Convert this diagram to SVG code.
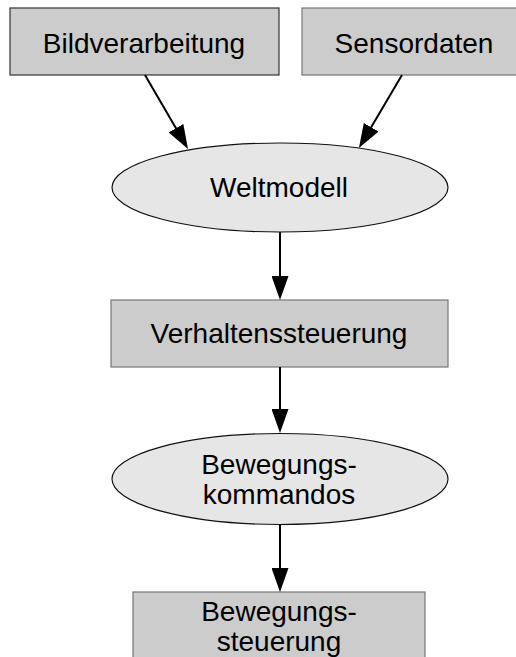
<svg xmlns="http://www.w3.org/2000/svg" width="516" height="657" viewBox="0 0 516 657">
  <style>
    .box { fill: #cccccc; stroke: #777777; stroke-width: 1.2; }
    .box.dark { stroke: #333333; }
    .oval { fill: #e6e6e6; stroke: #111111; stroke-width: 1.2; }
    .label { font-family: "Liberation Sans", Arial, sans-serif; font-size: 28px; fill: #000000; text-anchor: middle; }
    .edge { stroke: #000000; stroke-width: 2; fill: none; marker-end: url(#arrow); }
  </style>
  <defs>
    <marker id="arrow" markerUnits="userSpaceOnUse" markerWidth="24" markerHeight="17" refX="18" refY="8.5" orient="auto">
      <path d="M0,0 L24,8.5 L0,17 z" fill="#000000"/>
    </marker>
  </defs>
  <rect width="516" height="657" fill="#ffffff"/>

  <g id="bildverarbeitung">
    <rect class="box dark" x="10" y="8" width="269" height="67"/>
    <text class="label" x="144" y="53">Bildverarbeitung</text>
  </g>

  <g id="sensordaten">
    <rect class="box" x="302" y="8" width="220" height="67"/>
    <text class="label" x="414" y="53">Sensordaten</text>
  </g>

  <g id="weltmodell">
    <ellipse class="oval" cx="280" cy="187.5" rx="168" ry="44.5"/>
    <text class="label" x="279" y="197">Weltmodell</text>
  </g>

  <g id="verhaltenssteuerung">
    <rect class="box" x="111" y="300" width="337" height="67"/>
    <text class="label" x="279" y="343">Verhaltenssteuerung</text>
  </g>

  <g id="bewegungskommandos">
    <ellipse class="oval" cx="280" cy="479" rx="168" ry="45.5"/>
    <text class="label" x="279" y="474">Bewegungs-</text>
    <text class="label" x="279" y="504">kommandos</text>
  </g>

  <g id="bewegungssteuerung">
    <rect class="box" x="133" y="592" width="292" height="80"/>
    <text class="label" x="279" y="621">Bewegungs-</text>
    <text class="label" x="279" y="651">steuerung</text>
  </g>

  <g id="connectors">
    <line class="edge" x1="145" y1="75" x2="185" y2="143.8"/>
    <line class="edge" x1="402" y1="75" x2="362" y2="142.8"/>
    <line class="edge" x1="280" y1="232" x2="280" y2="294"/>
    <line class="edge" x1="280" y1="367" x2="280" y2="427"/>
    <line class="edge" x1="280" y1="524.5" x2="280" y2="586"/>
  </g>
</svg>
